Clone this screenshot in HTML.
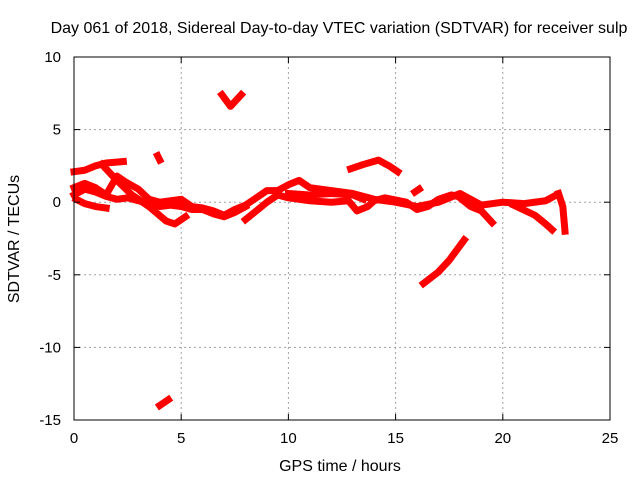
<!DOCTYPE html>
<html><head><meta charset="utf-8"><style>
body{margin:0;background:#fff}
svg{display:block;font-family:"Liberation Sans",sans-serif}
</style></head><body>
<svg id="chart" width="640" height="480" viewBox="0 0 640 480">
<text x="339" y="33" font-size="16" text-anchor="middle">Day 061 of 2018, Sidereal Day-to-day VTEC variation (SDTVAR) for receiver sulp</text>
<text x="340" y="471" font-size="16" text-anchor="middle">GPS time / hours</text>
<text x="19" y="239" font-size="16" text-anchor="middle" transform="rotate(-90 19 239)">SDTVAR / TECUs</text>
<g id="grid"></g><g id="marks"></g><g id="axes"></g>
</svg>
<script>
const xTicks=[0,5,10,15,20,25];
const yTicks=[10,5,0,-5,-10,-15];
const track1=[[0,2.1],[0.5,2.2],[1,2.5],[1.5,2.7],[2.3,2.8]];
const track2=[[1.3,2.6],[2,1.5],[2.7,0.5],[3.5,-0.3],[4.3,-1.3],[4.7,-1.5],[5.2,-1.0]];
const track3=[[0,1.0],[0.5,1.3],[1,1.0],[1.5,0.5],[2,1.8],[2.4,1.4],[3,0.9],[3.5,0.2],[4,0.0]];
const track4=[[0,0.5],[0.5,0.9],[1,0.7],[1.5,0.4],[2,0.2],[2.5,0.3],[3,0.1],[3.5,-0.1],[4,-0.3],[4.5,-0.2],[5,-0.3],[5.5,-0.5],[6,-0.5],[6.5,-0.8],[7,-1.0],[7.5,-0.7],[8,-0.3]];
const track5=[[0.1,0.2],[0.5,-0.1],[1,-0.3],[1.5,-0.4]];
const track6=[[4,0],[5,0.2],[5.5,-0.3],[6,-0.4],[6.5,-0.6],[7,-0.9],[7.5,-0.5],[8,-0.2],[8.5,0.3],[9,0.8],[9.5,0.8],[10,1.2],[10.5,1.5],[11,1.0],[12,0.8],[13,0.6],[14,0.2],[15,0.0],[16,-0.3],[17,0.0],[18,0.6],[19,-0.2],[20,0.0],[21,-0.1],[22,0.1],[22.5,0.5]];
const track7=[[8,-1.2],[8.5,-0.6],[9,0.0],[9.5,0.5],[10,0.3],[11,0.1],[12,0.0],[12.8,0.1],[13.2,-0.6],[13.7,-0.3],[14,0.1],[14.5,0.3],[15.5,0.0],[16,-0.5],[16.5,-0.3],[17,0.2],[17.6,0.5],[18.2,0.3]];
const track8=[[10,0.6],[11,0.5],[12,0.6],[13,0.5],[13.5,0.2]];
const track9=[[12.9,2.3],[13.5,2.6],[14.2,2.9],[14.7,2.5],[15.1,2.1]];
const track10=[[16.3,-5.6],[17,-4.8],[17.5,-4.0],[18.2,-2.6]];
const track11=[[6.9,7.4],[7.3,6.6],[7.8,7.4]];
const track12=[[4.0,-14.0],[4.4,-13.6]];
const track13=[[3.9,3.2],[4.0,2.9]];
const track14=[[18,0.3],[18.5,-0.3],[19,-0.6],[19.5,-1.4]];
const track15=[[20.5,-0.2],[21.5,-0.9],[22,-1.5],[22.3,-1.9]];
const track16=[[22.6,0.6],[22.8,-0.3],[22.9,-2.0]];
const track17=[[15.9,0.7],[16.1,0.9]];
const tracks=[track1,track2,track3,track4,track5,track6,track7,track8,track9,track10,track11,track12,track13,track14,track15,track16,track17];
const L=74,R=610,T=57,B=420;
const xs=v=>L+(v-0)/25*(R-L);
const ys=v=>T+(10-v)/25*(B-T);
const NS="http://www.w3.org/2000/svg";
function mk(tag,attrs,parent){const e=document.createElementNS(NS,tag);for(const k in attrs)e.setAttribute(k,attrs[k]);parent.appendChild(e);return e;}
const grid=document.getElementById('grid'),marks=document.getElementById('marks'),axes=document.getElementById('axes');
xTicks.forEach(t=>{const x=xs(t);
 if(t>0&&t<25){const g=mk('line',{x1:x,x2:x,y1:T,y2:B,stroke:'#a0a0a0','stroke-dasharray':'2,3'},grid);
 
 }
 const lb=mk('text',{x:x,y:B+23,'font-size':15,'text-anchor':'middle'},axes);lb.textContent=t;
 
 
 mk('line',{x1:x,x2:x,y1:B,y2:B-6,stroke:'#000'},axes);mk('line',{x1:x,x2:x,y1:T,y2:T+6,stroke:'#000'},axes);});
yTicks.forEach(t=>{const y=ys(t);
 if(t<10&&t>-15){const g=mk('line',{x1:L,x2:R,y1:y,y2:y,stroke:'#a0a0a0','stroke-dasharray':'2,3'},grid);
 
 }
 const lb=mk('text',{x:L-13,y:y+5,'font-size':15,'text-anchor':'end'},axes);lb.textContent=t;
 
 
 mk('line',{x1:L,x2:L+6,y1:y,y2:y,stroke:'#000'},axes);mk('line',{x1:R,x2:R-6,y1:y,y2:y,stroke:'#000'},axes);});
const frame=mk('rect',{x:L,y:T,width:R-L,height:B-T,fill:'none',stroke:'#000'},axes);


tracks.forEach(tr=>{const p=mk('polyline',{points:tr.map(d=>xs(d[0])+','+ys(d[1])).join(' '),fill:'none',stroke:'#ff0000','stroke-width':7,'stroke-linejoin':'round','stroke-linecap':'square'},marks);
 
 });
</script>
</body></html>
